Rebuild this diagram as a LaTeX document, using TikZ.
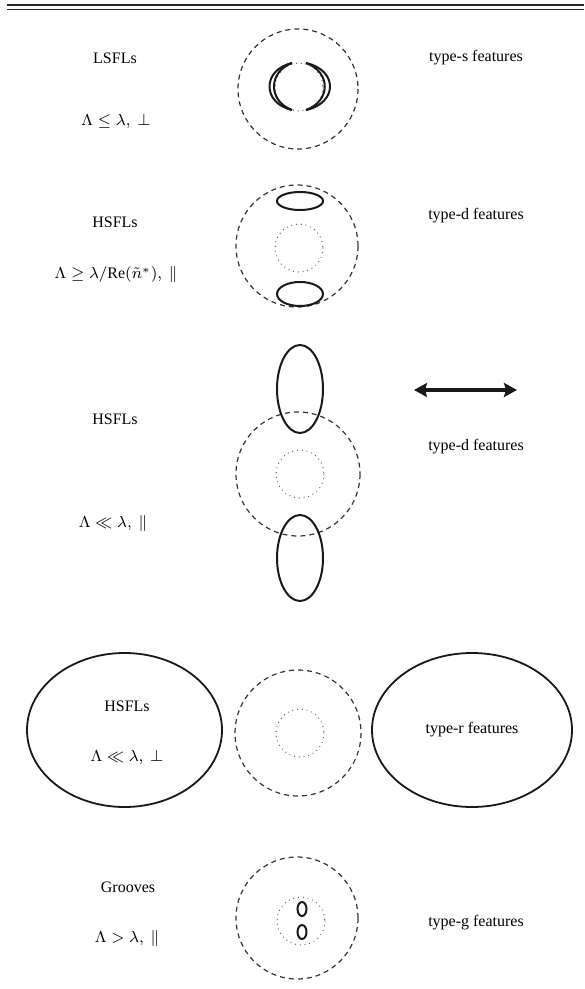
\documentclass[tikz,border=0pt]{standalone}
\usepackage{fontspec}
\setmainfont{Liberation Serif}
\usetikzlibrary{arrows.meta,shapes.geometric}

\begin{document}
\begin{tikzpicture}[x=0.5pt, y=-0.5pt, every node/.style={
    inner sep=0pt,
    font=\fontsize{8}{9.6}\selectfont
},
    focus/.style={dash pattern=on 2.5pt off 2pt, line width=0.6pt, black!80},
    core/.style={line cap=round, dash pattern=on 0pt off 2.4pt, line width=0.6pt, black!70},
    feature/.style={line width=1pt, black!90},
    blob/.style={ellipse, draw, line width=0.9pt, black!90, text=black}]
    \useasboundingbox (0,0) rectangle (584,989);
    \draw[line width=1pt, black!85] (7,4.7) -- (584,4.7);
    \draw[line width=0.8pt, black!85] (7,9.7) -- (584,9.7);

    % LSFLs
    \node (lsfl_label) [shift={(115, 58)}]
    {
        LSFLs
    };
    \node (lsfl_cond) [shift={(116, 122)}]
    {
        $\Lambda \leq \lambda,\ \perp$
    };
    \node (type_s) [shift={(476, 58)}]
    {
        type-s features
    };
    \draw[focus] (298, 89) circle [radius=60];
    \draw[core] (299, 87) circle [radius=24];
    \draw[feature] (292, 63) .. controls (262, 70) and (262, 103) .. (292, 110);
    \draw[feature] (292, 63) .. controls (268, 72) and (268, 101) .. (292, 110);
    \draw[feature] (306, 63) .. controls (338, 70) and (338, 103) .. (306, 110);
    \draw[feature] (306, 63) .. controls (331, 72) and (331, 101) .. (306, 110);

    % HSFLs, ||
    \node (hsfl_label) [shift={(115, 222)}]
    {
        HSFLs
    };
    \node (hsfl_cond) [shift={(116, 275)}]
    {
        $\Lambda \geq \lambda/\mathrm{Re}(\tilde{n}^{*}),\ \|$
    };
    \node (type_d) [shift={(476, 216)}]
    {
        type-d features
    };
    \draw[focus] (297, 246) circle [radius=61];
    \draw[core] (299, 248) circle [radius=24];
    \draw[feature] (300, 201) ellipse [x radius=23, y radius=9];
    \draw[feature] (300, 294) ellipse [x radius=23, y radius=12];

    % HSFLs, << ||
    \node (hsfl_ll_label) [shift={(115, 419)}]
    {
        HSFLs
    };
    \node (hsfl_ll_cond) [shift={(113, 523)}]
    {
        $\Lambda \ll \lambda,\ \|$
    };
    \node (type_d_ll) [shift={(476, 447)}]
    {
        type-d features
    };
    \draw[focus] (298, 474) circle [radius=62];
    \draw[core] (300, 474) circle [radius=24];
    \draw[feature] (300, 389) ellipse [x radius=23, y radius=44];
    \draw[feature] (300, 558) ellipse [x radius=23, y radius=43];
    \coordinate (pol_left) at (414, 390);
    \coordinate (pol_right) at (517, 390);
    \draw[{Stealth[length=6.5pt, width=7pt, inset=1pt]}-{Stealth[length=6.5pt, width=7pt, inset=1pt]}, line width=2pt, black!90] (pol_left) -- (pol_right);

    % HSFLs, << perp
    \node (hsfl_perp_box) [blob, minimum width=97.5pt, minimum height=77pt, shift={(124.5, 730)}] {};
    \node (hsfl_perp_label) [shift={(127, 706)}]
    {
        HSFLs
    };
    \node (hsfl_perp_cond) [shift={(127, 757)}]
    {
        $\Lambda \ll \lambda,\ \perp$
    };
    \node (type_r) [blob, minimum width=100pt, minimum height=77pt, shift={(472, 730)}]
    {
        type-r features
    };
    \draw[focus] (298, 733) circle [radius=63];
    \draw[core] (300, 733) circle [radius=24];

    % Grooves
    \node (groove_label) [shift={(128, 887)}]
    {
        Grooves
    };
    \node (groove_cond) [shift={(127, 938)}]
    {
        $\Lambda > \lambda,\ \|$
    };
    \node (type_g) [shift={(476, 923)}]
    {
        type-g features
    };
    \draw[focus] (297, 918) circle [radius=61];
    \draw[core] (301, 921) circle [radius=24];
    \draw[feature] (302, 909) ellipse [x radius=4.5, y radius=7];
    \draw[feature] (302, 932) ellipse [x radius=4.5, y radius=7];
\end{tikzpicture}
\end{document}
